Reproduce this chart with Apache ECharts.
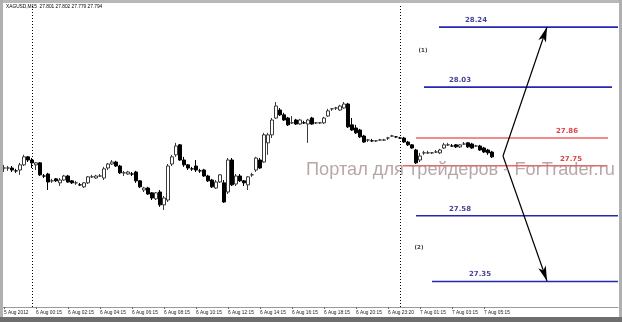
<!DOCTYPE html>
<html><head><meta charset="utf-8">
<script src="https://cdn.jsdelivr.net/npm/echarts@6/dist/echarts.min.js"></script>
<style>html,body{margin:0;padding:0;background:#fff}#c{width:622px;height:322px}</style>
</head><body><div id="c"></div>
<script>
const chartTitle = 'XAGUSD,M15  27.801 27.802 27.779 27.794';
const watermark = 'Портал для трейдеров - ForTrader.ru';
const tickLabels = ['5 Aug 2012','6 Aug 00:15','6 Aug 02:15','6 Aug 04:15','6 Aug 06:15','6 Aug 08:15',
  '6 Aug 10:15','6 Aug 12:15','6 Aug 14:15','6 Aug 16:15','6 Aug 18:15','6 Aug 20:15','6 Aug 23:20',
  '7 Aug 01:15','7 Aug 03:15','7 Aug 05:15'];
const barsPerTick = 8;
const totalSlots = 154;
// [open, close, low, high]
const candles = [
 [27.747,27.747,27.733,27.758],[27.747,27.747,27.737,27.754],[27.747,27.740,27.733,27.754],[27.737,27.737,27.730,27.744],
 [27.740,27.758,27.723,27.765],[27.758,27.786,27.754,27.793],[27.786,27.775,27.768,27.789],[27.775,27.765,27.747,27.782],
 [27.758,27.765,27.740,27.768],[27.765,27.723,27.719,27.768],[27.719,27.719,27.712,27.726],[27.726,27.698,27.670,27.730],
 [27.702,27.702,27.695,27.709],[27.709,27.702,27.698,27.712],[27.695,27.705,27.684,27.712],[27.705,27.719,27.702,27.723],
 [27.719,27.698,27.695,27.723],[27.702,27.695,27.691,27.705],[27.695,27.695,27.688,27.702],[27.688,27.688,27.684,27.695],
 [27.681,27.695,27.677,27.698],[27.695,27.716,27.691,27.719],[27.716,27.716,27.712,27.723],[27.712,27.719,27.709,27.723],
 [27.719,27.719,27.716,27.726],[27.712,27.744,27.705,27.751],[27.747,27.761,27.740,27.765],[27.761,27.768,27.758,27.775],
 [27.768,27.754,27.751,27.772],[27.754,27.730,27.726,27.758],[27.730,27.730,27.719,27.737],[27.726,27.733,27.723,27.737],
 [27.726,27.726,27.719,27.733],[27.733,27.702,27.695,27.737],[27.702,27.681,27.677,27.705],[27.670,27.677,27.663,27.681],
 [27.677,27.656,27.653,27.681],[27.660,27.642,27.635,27.663],[27.639,27.660,27.635,27.663],[27.663,27.618,27.611,27.670],
 [27.618,27.642,27.600,27.649],[27.635,27.754,27.628,27.761],[27.761,27.786,27.754,27.793],[27.793,27.824,27.786,27.835],
 [27.828,27.775,27.772,27.831],[27.775,27.758,27.751,27.786],[27.758,27.747,27.740,27.761],[27.744,27.744,27.737,27.751],
 [27.754,27.740,27.733,27.775],[27.737,27.737,27.730,27.744],[27.740,27.719,27.716,27.744],[27.719,27.702,27.698,27.723],
 [27.705,27.681,27.677,27.709],[27.677,27.698,27.674,27.705],[27.698,27.723,27.695,27.726],[27.695,27.628,27.625,27.705],
 [27.663,27.775,27.656,27.782],[27.775,27.688,27.684,27.782],[27.691,27.719,27.684,27.726],[27.719,27.702,27.698,27.726],
 [27.702,27.695,27.684,27.705],[27.688,27.716,27.670,27.719],[27.723,27.723,27.716,27.730],[27.740,27.782,27.733,27.786],
 [27.775,27.747,27.744,27.782],[27.768,27.863,27.765,27.870],[27.835,27.863,27.793,27.870],[27.863,27.915,27.852,27.922],
 [27.922,27.964,27.919,27.978],[27.950,27.933,27.929,27.957],[27.933,27.915,27.912,27.940],[27.922,27.898,27.894,27.926],
 [27.905,27.905,27.901,27.929],[27.915,27.901,27.898,27.919],[27.901,27.915,27.898,27.919],[27.905,27.905,27.901,27.912],
 [27.901,27.915,27.835,27.919],[27.922,27.901,27.898,27.926],[27.905,27.905,27.901,27.908],[27.905,27.905,27.901,27.908],
 [27.905,27.922,27.901,27.926],[27.929,27.947,27.926,27.954],[27.954,27.954,27.947,27.957],[27.957,27.957,27.950,27.961],
 [27.950,27.964,27.947,27.968],[27.957,27.971,27.954,27.978],[27.971,27.891,27.887,27.975],[27.898,27.880,27.877,27.922],
 [27.887,27.870,27.866,27.898],[27.880,27.856,27.852,27.884],[27.859,27.838,27.835,27.863],[27.845,27.845,27.838,27.849],
 [27.842,27.842,27.838,27.849],[27.842,27.842,27.838,27.845],[27.845,27.845,27.842,27.849],[27.845,27.845,27.842,27.849],
 [27.852,27.852,27.845,27.856],[27.859,27.859,27.856,27.863],[27.856,27.856,27.852,27.859],[27.852,27.852,27.849,27.856],
 [27.852,27.838,27.835,27.856],[27.838,27.828,27.824,27.842],[27.828,27.817,27.814,27.831],[27.810,27.765,27.761,27.814],
 [27.775,27.789,27.768,27.800],[27.800,27.800,27.793,27.807],[27.800,27.800,27.796,27.807],[27.800,27.800,27.796,27.803],
 [27.803,27.803,27.800,27.810],[27.800,27.810,27.796,27.814],[27.817,27.828,27.814,27.835],[27.828,27.828,27.824,27.835],
 [27.824,27.824,27.821,27.831],[27.828,27.821,27.817,27.831],[27.821,27.828,27.817,27.831],[27.831,27.831,27.828,27.838],
 [27.835,27.821,27.817,27.838],[27.831,27.817,27.814,27.835],[27.824,27.824,27.821,27.828],[27.824,27.810,27.807,27.828],
 [27.817,27.803,27.800,27.821],[27.810,27.800,27.793,27.814],[27.803,27.786,27.782,27.807]
];
// horizontal target levels, their text, and extent in bar units
const levelValues = [28.24, 28.03, 27.852, 27.755, 27.58, 27.35];
const levelTexts  = ['28.24','28.03','27.86','27.75','27.58','27.35'];
const levelFrom   = [108.75, 105, 103, 99.75, 103, 107];
const levelTo     = [153.5, 152, 151, 150.75, 153.5, 153.5];
const levelTextAt = [118, 114, 140.75, 141.75, 114, 119];
const levelIsRed  = [false, false, true, true, false, false];
const scenarioTexts = ['(1)', '(2)'];
const scenarioAt = [[104.75, 28.157], [103.75, 27.467]];
const arrowStart = [124.75, 27.789];
const arrowEnds = [[135.75, 28.2405], [135.75, 27.3515]];
const daySeparators = [7, 99];
const yMin = 27.2605, yMax = 28.321;

const chart = echarts.init(document.getElementById('c'), null, {renderer: 'canvas'});
const cats = Array.from({length: totalSlots}, (_, i) => String(i));
const series = [];
series.push({
  type: 'candlestick', xAxisIndex: 0, yAxisIndex: 0, data: candles, barWidth: 3,
  itemStyle: {color: '#ffffff', color0: '#000000', borderColor: '#3a3a3a', borderColor0: '#000000', borderWidth: 1},
  markLine: {silent: true, symbol: 'none', label: {show: false},
    lineStyle: {color: '#000', type: [1, 2], width: 1},
    data: daySeparators.map(v => ({xAxis: v}))}
});
levelValues.forEach((v, i) => {
  series.push({type: 'line', xAxisIndex: 1, yAxisIndex: 0, symbol: 'none', silent: true,
    lineStyle: {color: levelIsRed[i] ? '#f06464' : '#2626b0', width: 1.6},
    data: [[levelFrom[i], v], [levelTo[i], v]]});
});
series.push({type: 'scatter', xAxisIndex: 1, yAxisIndex: 0, symbolSize: 1, silent: true,
  itemStyle: {color: 'rgba(0,0,0,0)'},
  data: levelValues.map((v, i) => ({value: [levelTextAt[i], v],
    label: {show: true, position: 'top', distance: 3, formatter: levelTexts[i],
      color: levelIsRed[i] ? '#d01414' : '#101080', fontSize: 7, fontWeight: 'bold', fontFamily: 'DejaVu Sans'}}))
});
series.push({type: 'scatter', xAxisIndex: 1, yAxisIndex: 0, symbolSize: 1, silent: true,
  itemStyle: {color: 'rgba(0,0,0,0)'},
  data: scenarioAt.map((p, i) => ({value: p,
    label: {show: true, position: 'inside', formatter: scenarioTexts[i], color: '#000', fontSize: 5.5, fontWeight: 'bold', fontFamily: 'DejaVu Sans'}}))
});
series.push({type: 'line', xAxisIndex: 1, yAxisIndex: 0, data: [], silent: true,
  markLine: {silent: true, symbol: ['none', 'arrow'], symbolSize: [6, 15], label: {show: false},
    lineStyle: {color: '#000', type: 'solid', width: 1.2},
    data: arrowEnds.map(e => [{coord: arrowStart}, {coord: e}])}
});

chart.setOption({
  animation: false,
  backgroundColor: '#ffffff',
  grid: {left: 2, right: 4, top: 4, bottom: 15, containLabel: false},
  xAxis: [
    {type: 'category', data: cats, boundaryGap: true,
     axisLine: {show: true, lineStyle: {color: '#9a9a9a', width: 1}},
     axisTick: {show: true, alignWithLabel: true, length: 2, lineStyle: {color: '#666'},
       interval: (idx) => idx % barsPerTick === 0 && idx / barsPerTick < tickLabels.length},
     axisLabel: {show: true, interval: (idx) => idx % barsPerTick === 0 && idx / barsPerTick < tickLabels.length,
       formatter: (v, idx) => tickLabels[idx / barsPerTick] || '', align: 'left', margin: 3,
       fontSize: 4.8, color: '#222', fontFamily: 'Liberation Sans'},
     splitLine: {show: false}},
    {type: 'value', min: -0.5, max: totalSlots - 0.5, show: false}
  ],
  yAxis: {type: 'value', min: yMin, max: yMax, show: false, scale: true},
  graphic: [
    {type: 'rect', shape: {x: 0, y: 0, width: 622, height: 3}, style: {fill: '#b8b8b8'}, z: 100},
    {type: 'rect', shape: {x: 0, y: 0, width: 3, height: 322}, style: {fill: '#b0b0b0'}, z: 100},
    {type: 'rect', shape: {x: 619, y: 0, width: 3, height: 322}, style: {fill: '#b0b0b0'}, z: 100},
    {type: 'rect', shape: {x: 0, y: 317, width: 622, height: 5}, style: {fill: '#6e6e6e'}, z: 100},
    {type: 'text', left: 6, top: 4, style: {text: chartTitle, fontSize: 4.8, fill: '#000', fontFamily: 'Liberation Sans'}, z: 100},
    {type: 'text', left: 306, top: 161, style: {text: watermark, fontSize: 18.2, fill: 'rgba(160,138,138,0.75)', fontFamily: 'Liberation Sans'}, z: 50}
  ],
  series: series
});
</script></body></html>
